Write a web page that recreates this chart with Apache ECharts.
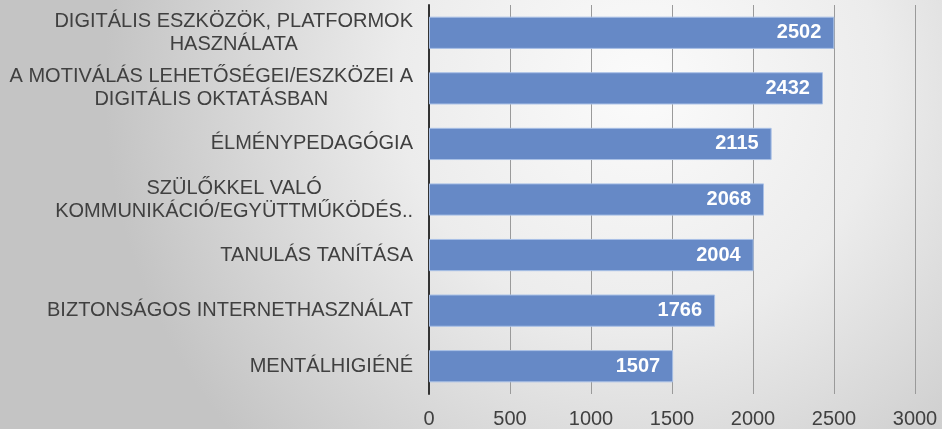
<!DOCTYPE html>
<html>
<head>
<meta charset="utf-8">
<script src="https://cdn.jsdelivr.net/npm/echarts@6/dist/echarts.min.js"></script>
<style>
  html, body { margin: 0; padding: 0; }
  #chart { width: 942px; height: 429px; }
</style>
</head>
<body>
<div id="chart"></div>
<script>
// kategóriák alulról felfelé (y tengely)
const categories = [
  'MENTÁLHIGIÉNÉ',
  'BIZTONSÁGOS INTERNETHASZNÁLAT',
  'TANULÁS TANÍTÁSA',
  'SZÜLŐKKEL VALÓ\nKOMMUNIKÁCIÓ/EGYÜTTMŰKÖDÉS..',
  'ÉLMÉNYPEDAGÓGIA',
  'A MOTIVÁLÁS LEHETŐSÉGEI/ESZKÖZEI A\nDIGITÁLIS OKTATÁSBAN',
  'DIGITÁLIS ESZKÖZÖK, PLATFORMOK\nHASZNÁLATA'
]
const values = [1507, 1766, 2004, 2068, 2115, 2432, 2502]
const xTicks = [0, 500, 1000, 1500, 2000, 2500, 3000]

const chart = echarts.init(document.getElementById('chart'))

chart.setOption({
  animation: false,
  backgroundColor: {
    type: 'radial',
    x: 0.68,
    y: 0.2,
    r: 1.25,
    colorStops: [
      { offset: 0, color: '#fbfbfb' },
      { offset: 0.45, color: '#ececec' },
      { offset: 1, color: '#c4c4c4' }
    ]
  },
  textStyle: {
    fontFamily: 'Liberation Sans, Arial, sans-serif'
  },
  grid: {
    left: 429,
    right: 27,
    top: 5,
    bottom: 34,
    containLabel: false
  },
  xAxis: {
    type: 'value',
    min: xTicks[0],
    max: xTicks[xTicks.length - 1],
    interval: 500,
    axisLine: { show: false },
    axisTick: { show: false },
    axisLabel: {
      color: '#404040',
      fontSize: 20,
      margin: 15,
      formatter: v => String(v)
    },
    splitLine: {
      show: true,
      lineStyle: { color: '#9a9a9a', width: 1 }
    }
  },
  yAxis: {
    type: 'category',
    data: categories,
    axisLine: {
      show: true,
      lineStyle: { color: '#333333', width: 2 }
    },
    axisTick: { show: false },
    axisLabel: {
      color: '#404040',
      fontSize: 20,
      margin: 16,
      align: 'right',
      lineHeight: 23,
      formatter(v) {
        // sorok középre igazítva a blokkon belül
        return v.split('\n').map(l => '{c|' + l + '}').join('\n')
      },
      rich: {
        c: {
          align: 'center',
          color: '#404040',
          fontSize: 20,
          lineHeight: 23
        }
      }
    }
  },
  series: [{
    type: 'bar',
    data: values,
    barCategoryGap: '42%',
    itemStyle: {
      color: '#6689c6',
      borderColor: '#a9c0e6',
      borderWidth: 1
    },
    label: {
      show: true,
      position: 'insideRight',
      distance: 13,
      color: '#ffffff',
      fontWeight: 'bold',
      fontSize: 20
    }
  }]
})
</script>
</body>
</html>
